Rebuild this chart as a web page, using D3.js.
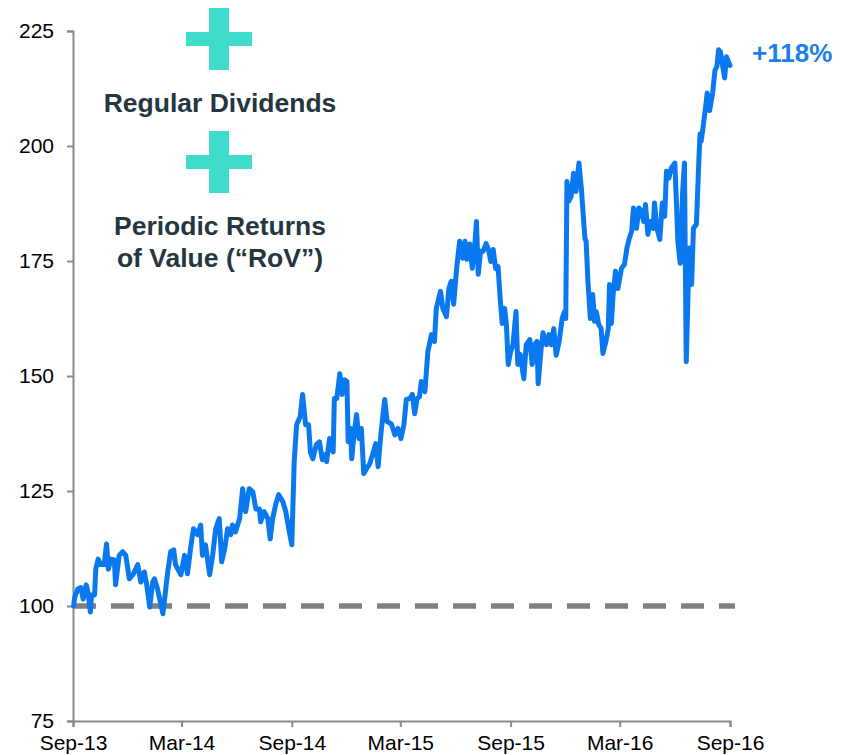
<!DOCTYPE html>
<html>
<head>
<meta charset="utf-8">
<script src="https://cdn.jsdelivr.net/npm/d3@7"></script>
<style>
  body { margin: 0; background: #fff; }
  svg text { font-family: "Liberation Sans", Arial, sans-serif; }
</style>
</head>
<body>
<div id="chart"></div>
<script>
// index value (Sep-13 = 100)
const series = [
  ["2013-09-02",100.0],["2013-09-04",102.0],["2013-09-09",103.7],["2013-09-14",104.0],
  ["2013-09-18",101.5],["2013-09-23",104.6],["2013-09-26",103.0],["2013-09-30",98.7],
  ["2013-10-02",102.4],["2013-10-07",102.4],["2013-10-09",108.0],["2013-10-13",110.2],
  ["2013-10-17",109.0],["2013-10-23",109.0],["2013-10-27",113.5],["2013-10-30",108.0],
  ["2013-11-03",110.2],["2013-11-09",110.0],["2013-11-11",104.6],["2013-11-17",111.0],
  ["2013-11-23",111.8],["2013-11-28",111.0],["2013-12-04",105.9],["2013-12-10",106.8],
  ["2013-12-18",109.0],["2013-12-23",105.2],["2013-12-29",107.4],["2014-01-02",104.6],
  ["2014-01-07",99.8],["2014-01-12",105.2],["2014-01-15",105.9],["2014-01-20",103.7],
  ["2014-01-29",98.3],["2014-02-06",107.4],["2014-02-11",111.8],["2014-02-16",112.2],
  ["2014-02-19",109.0],["2014-02-28",106.8],["2014-03-06",111.0],["2014-03-11",107.0],
  ["2014-03-16",112.4],["2014-03-21",116.8],["2014-03-28",115.5],["2014-04-02",117.6],
  ["2014-04-05",111.0],["2014-04-10",113.3],["2014-04-17",106.8],["2014-04-22",111.0],
  ["2014-04-27",116.8],["2014-05-03",119.0],["2014-05-07",109.6],["2014-05-12",112.4],
  ["2014-05-17",116.8],["2014-05-22",115.5],["2014-05-25",117.6],["2014-05-30",116.1],
  ["2014-06-06",119.0],["2014-06-11",125.5],["2014-06-16",120.5],["2014-06-22",125.5],
  ["2014-06-28",124.8],["2014-07-03",121.1],["2014-07-09",121.1],["2014-07-11",118.3],
  ["2014-07-17",120.5],["2014-07-23",119.0],["2014-07-27",114.6],["2014-07-31",119.0],
  ["2014-08-05",122.0],["2014-08-10",124.2],["2014-08-17",122.7],["2014-08-22",120.5],
  ["2014-08-27",116.8],["2014-09-01",113.3],["2014-09-05",131.4],["2014-09-09",139.4],
  ["2014-09-15",141.2],["2014-09-19",146.0],["2014-09-24",139.4],["2014-09-29",139.4],
  ["2014-10-02",133.5],["2014-10-06",132.0],["2014-10-12",135.1],["2014-10-17",135.7],
  ["2014-10-22",131.8],["2014-10-27",132.9],["2014-10-29",131.4],["2014-11-03",136.4],
  ["2014-11-09",133.5],["2014-11-11",145.1],["2014-11-15",145.1],["2014-11-20",150.5],
  ["2014-11-24",146.0],["2014-11-28",149.2],["2014-12-02",148.8],["2014-12-04",135.7],
  ["2014-12-08",138.6],["2014-12-10",132.0],["2014-12-13",136.4],["2014-12-18",141.6],
  ["2014-12-22",136.4],["2014-12-26",138.6],["2014-12-30",128.8],["2015-01-04",129.9],
  ["2015-01-09",130.9],["2015-01-15",133.5],["2015-01-19",135.3],["2015-01-23",130.3],
  ["2015-01-28",137.9],["2015-02-03",144.9],["2015-02-07",140.1],["2015-02-14",139.6],
  ["2015-02-20",137.2],["2015-02-25",138.6],["2015-03-02",136.4],["2015-03-07",139.4],
  ["2015-03-11",144.9],["2015-03-17",145.1],["2015-03-21",146.0],["2015-03-25",141.8],
  ["2015-03-29",145.1],["2015-04-02",145.5],["2015-04-05",148.8],["2015-04-11",146.6],
  ["2015-04-16",155.3],["2015-04-22",159.0],["2015-04-27",157.5],["2015-04-30",164.7],
  ["2015-05-07",168.4],["2015-05-11",164.7],["2015-05-17",162.9],["2015-05-21",169.0],
  ["2015-05-25",170.6],["2015-05-29",165.6],["2015-06-03",173.4],["2015-06-08",179.3],
  ["2015-06-13",175.6],["2015-06-17",179.3],["2015-06-20",175.4],["2015-06-25",178.7],
  ["2015-06-29",173.4],["2015-07-03",177.8],["2015-07-06",183.6],["2015-07-09",172.1],
  ["2015-07-13",177.1],["2015-07-17",177.1],["2015-07-22",178.8],["2015-07-26",177.5],
  ["2015-07-30",174.9],["2015-08-03",177.5],["2015-08-07",173.4],["2015-08-11",173.8],
  ["2015-08-15",166.2],["2015-08-18",161.4],["2015-08-22",164.7],["2015-08-25",161.2],
  ["2015-08-28",152.5],["2015-09-01",155.3],["2015-09-05",156.8],["2015-09-10",164.0],
  ["2015-09-13",152.5],["2015-09-17",154.7],["2015-09-23",149.4],["2015-09-27",156.8],
  ["2015-10-03",157.9],["2015-10-07",152.5],["2015-10-11",156.8],["2015-10-15",157.5],
  ["2015-10-17",148.3],["2015-10-22",156.0],["2015-10-25",159.4],["2015-10-31",156.8],
  ["2015-11-04",159.0],["2015-11-08",156.8],["2015-11-12",160.3],["2015-11-16",154.5],
  ["2015-11-21",157.5],["2015-11-26",162.5],["2015-11-30",164.0],["2015-12-02",162.5],
  ["2015-12-04",192.3],["2015-12-07",188.0],["2015-12-11",189.1],["2015-12-15",194.1],
  ["2015-12-19",190.1],["2015-12-24",196.3],["2015-12-28",190.8],["2016-01-03",179.9],
  ["2016-01-05",179.3],["2016-01-08",170.6],["2016-01-12",162.5],["2016-01-16",167.7],
  ["2016-01-19",161.9],["2016-01-22",164.0],["2016-01-26",161.2],["2016-01-30",160.3],
  ["2016-02-02",154.9],["2016-02-07",157.5],["2016-02-11",160.3],["2016-02-13",169.9],
  ["2016-02-16",161.4],["2016-02-19",167.7],["2016-02-23",172.8],["2016-02-27",169.0],
  ["2016-03-04",173.4],["2016-03-09",174.3],["2016-03-13",177.8],["2016-03-17",179.9],
  ["2016-03-21",181.5],["2016-03-24",186.5],["2016-03-29",182.1],["2016-04-02",186.5],
  ["2016-04-06",185.8],["2016-04-10",183.6],["2016-04-13",187.3],["2016-04-17",180.8],
  ["2016-04-21",183.6],["2016-04-26",182.1],["2016-04-28",187.6],["2016-05-02",182.1],
  ["2016-05-07",179.7],["2016-05-11",187.6],["2016-05-15",184.7],["2016-05-18",194.5],
  ["2016-05-22",193.0],["2016-05-26",195.2],["2016-06-01",196.3],["2016-06-04",186.5],
  ["2016-06-06",179.3],["2016-06-10",174.5],["2016-06-14",190.1],["2016-06-17",196.3],
  ["2016-06-20",153.1],["2016-06-25",177.8],["2016-06-29",169.9],["2016-07-02",182.1],
  ["2016-07-07",183.0],["2016-07-11",196.7],["2016-07-13",202.6],["2016-07-15",201.1],
  ["2016-07-18",204.0],["2016-07-23",209.2],["2016-07-25",211.5],["2016-07-29",207.7],
  ["2016-08-03",211.5],["2016-08-07",216.5],["2016-08-10",217.2],["2016-08-13",220.9],
  ["2016-08-16",220.5],["2016-08-20",217.2],["2016-08-23",214.8],["2016-08-26",219.4],
  ["2016-09-01",217.5]
];

const yTicks = [75, 100, 125, 150, 175, 200, 225];
const xTicks = ["2013-09-01", "2014-03-01", "2014-09-01", "2015-03-01", "2015-09-01", "2016-03-01", "2016-09-01"];
const baseline = 100;
const endLabel = "+118%";
const noteLines = [["Regular Dividends"], ["Periodic Returns", "of Value (“RoV”)"]];

const width = 850, height = 755;
const margin = { top: 31, right: 120, bottom: 34, left: 73 };

const parse = d3.timeParse("%Y-%m-%d");
const data = series.map(([d, v]) => ({ date: parse(d), value: v }));

const svg = d3.select("#chart").append("svg")
  .attr("width", width).attr("height", height);

// scales
const x = d3.scaleTime()
  .domain([parse(xTicks[0]), parse(xTicks[xTicks.length - 1])])
  .range([margin.left, width - margin.right]);
const y = d3.scaleLinear()
  .domain([75, 225])
  .range([height - margin.bottom, margin.top]);

// y axis
const yAxis = svg.append("g")
  .attr("transform", `translate(${margin.left},0)`)
  .call(d3.axisLeft(y).tickValues(yTicks).tickSize(6).tickPadding(13));
yAxis.select(".domain").attr("stroke", "#8a8a8a").attr("stroke-width", 2);
yAxis.selectAll(".tick line").attr("stroke", "#8a8a8a").attr("stroke-width", 2);
yAxis.selectAll(".tick text").attr("font-size", 21).attr("fill", "#000");

// x axis
const xAxis = svg.append("g")
  .attr("transform", `translate(0,${height - margin.bottom})`)
  .call(d3.axisBottom(x).tickValues(xTicks.map(parse)).tickFormat(d3.timeFormat("%b-%y")).tickSize(6).tickPadding(8));
xAxis.select(".domain").attr("stroke", "#8a8a8a").attr("stroke-width", 2);
xAxis.selectAll(".tick line").attr("stroke", "#8a8a8a").attr("stroke-width", 2);
xAxis.selectAll(".tick text").attr("font-size", 21).attr("fill", "#000");

// baseline 100
svg.append("line")
  .attr("x1", x.range()[0]).attr("x2", x.range()[1] + 5)
  .attr("y1", y(baseline)).attr("y2", y(baseline))
  .attr("stroke", "#808080").attr("stroke-width", 5.5)
  .attr("stroke-dasharray", "23,15");

// index line
const line = d3.line().x(d => x(d.date)).y(d => y(d.value));
svg.append("path")
  .datum(data)
  .attr("d", line)
  .attr("fill", "none")
  .attr("stroke", "#0a78ee")
  .attr("stroke-width", 5)
  .attr("stroke-linejoin", "round")
  .attr("stroke-linecap", "round");

// end label
const last = data[data.length - 1];
svg.append("text")
  .attr("x", x(last.date) + 22).attr("y", y(last.value) - 4)
  .attr("font-size", 26).attr("font-weight", "bold").attr("fill", "#1a7fe8")
  .text(endLabel);

// plus icons and notes
const teal = "#3fdccb";
function plus(cx, cy) {
  svg.append("rect").attr("x", cx - 10).attr("y", cy - 31).attr("width", 20).attr("height", 62).attr("fill", teal);
  svg.append("rect").attr("x", cx - 33).attr("y", cy - 7).attr("width", 66).attr("height", 14).attr("fill", teal);
}
plus(219, 39);
plus(219, 162);

const noteY = [112, 235];
noteLines.forEach((lines, i) => {
  lines.forEach((t, j) => {
    svg.append("text")
      .attr("x", 220).attr("y", noteY[i] + j * 32)
      .attr("text-anchor", "middle")
      .attr("font-size", 26.5).attr("font-weight", "bold").attr("fill", "#263640")
      .text(t);
  });
});
</script>
</body>
</html>
